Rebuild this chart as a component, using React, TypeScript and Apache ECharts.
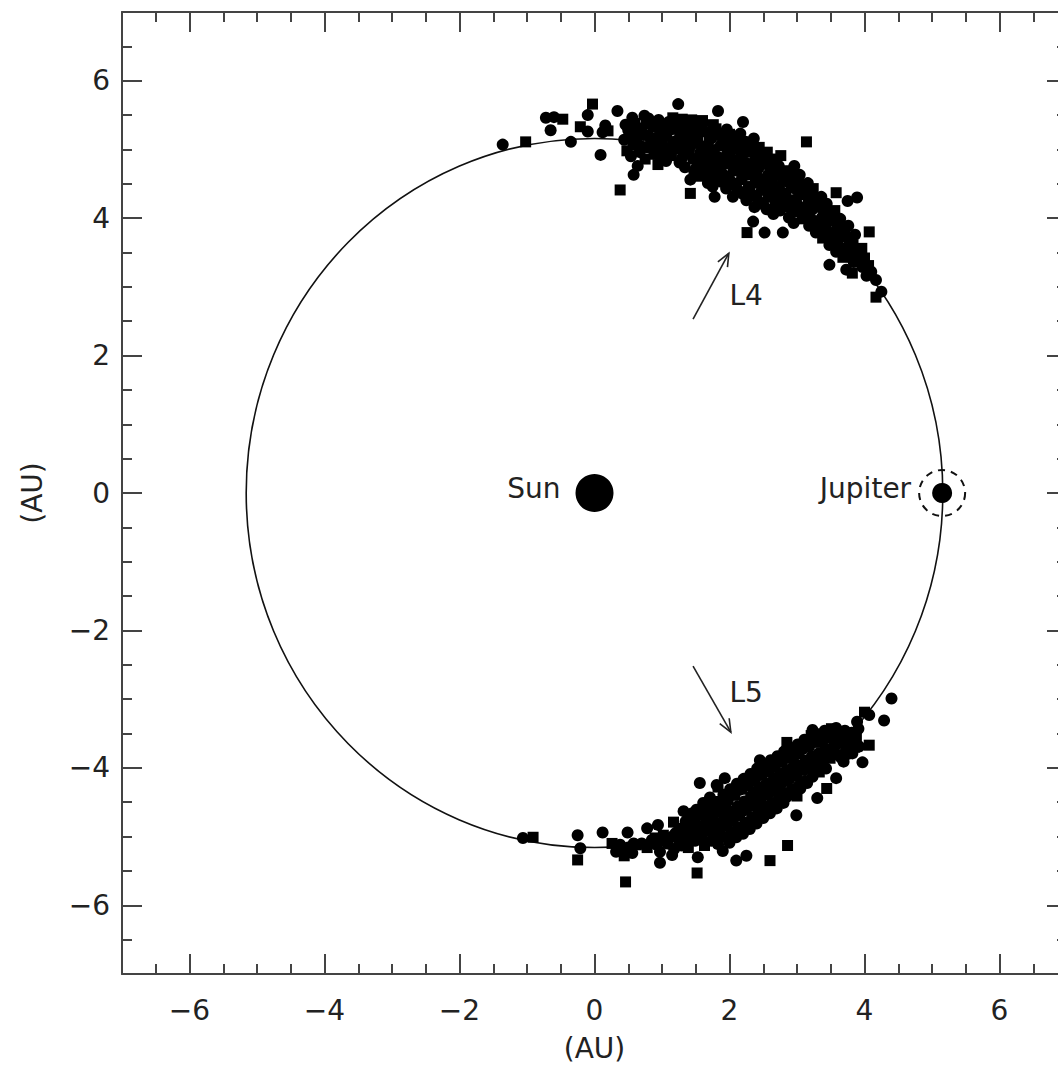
import React, { useEffect, useRef } from 'react';
import * as echarts from 'echarts';

// ---- data ----
const majorTicks = [-6, -4, -2, 0, 2, 4, 6];
const orbit = [[0, 0, 5.16]]; // centre x, centre y, radius (AU)
const sun = [[0, 0]];
const jupiter = [[5.15, 0]];

const trojansL4 = [
  [-1.36, 5.07], [-1.02, 5.11], [-0.72, 5.46], [-0.6, 5.47], [-0.47, 5.44], [-0.65, 5.28], [-0.35, 5.11],
  [-0.21, 5.33], [-0.1, 5.26], [-0.1, 5.5], [-0.03, 5.66], [0.09, 4.92], [0.12, 5.25], [0.2, 5.27], [0.16, 5.35],
  [0.34, 5.56], [0.38, 4.41], [0.58, 4.63], [0.64, 4.76], [0.94, 4.78], [1.24, 5.66], [1.42, 4.56], [1.42, 4.36],
  [1.83, 5.56], [2.2, 5.4], [3.14, 5.11], [1.78, 4.31], [2.35, 3.95], [2.26, 3.79], [2.52, 3.79], [2.79, 3.79],
  [3.58, 4.37], [3.75, 4.25], [3.89, 4.3], [4.07, 3.8], [3.48, 3.32], [3.73, 3.25], [3.82, 3.2], [4.17, 3.1],
  [4.25, 2.93], [4.17, 2.85],
  [0.46, 5.36], [0.44, 5.14], [0.48, 4.98],
  [0.56, 5.46], [0.53, 5.24], [0.57, 5.06], [0.54, 4.9],
  [0.66, 5.31], [0.63, 5.13], [0.67, 4.96],
  [0.74, 5.49], [0.77, 5.38], [0.73, 5.21], [0.78, 5.03], [0.75, 4.86],
  [0.86, 5.33], [0.84, 5.11], [0.88, 4.93],
  [0.95, 5.43], [0.97, 5.26], [0.93, 5.06], [0.98, 4.89],
  [1.04, 5.36], [1.07, 5.19], [1.03, 4.99], [1.06, 4.83],
  [1.16, 5.46], [1.13, 5.29], [1.17, 5.09], [1.14, 4.91],
  [1.24, 5.39], [1.27, 5.21], [1.23, 5.01], [1.26, 4.81],
  [1.36, 5.31], [1.33, 5.13], [1.37, 4.96], [1.34, 4.74],
  [1.44, 5.43], [1.47, 5.23], [1.43, 5.06], [1.46, 4.86], [1.48, 4.66],
  [1.56, 5.33], [1.53, 5.16], [1.57, 4.96], [1.54, 4.79], [1.58, 4.61],
  [1.64, 5.26], [1.67, 5.06], [1.63, 4.89], [1.66, 4.71], [1.68, 4.51],
  [1.76, 5.36], [1.73, 5.16], [1.77, 4.99], [1.74, 4.81], [1.78, 4.63], [1.75, 4.46],
  [1.84, 5.21], [1.87, 5.06], [1.83, 4.89], [1.86, 4.71], [1.88, 4.53],
  [1.96, 5.29], [1.93, 5.11], [1.97, 4.96], [1.94, 4.79], [1.98, 4.61], [1.95, 4.43],
  [2.04, 5.16], [2.07, 5.01], [2.03, 4.86], [2.06, 4.69], [2.08, 4.51], [2.05, 4.31],
  [2.16, 5.23], [2.13, 5.06], [2.17, 4.91], [2.14, 4.73], [2.18, 4.56], [2.15, 4.39],
  [2.24, 5.11], [2.27, 4.96], [2.23, 4.81], [2.26, 4.63], [2.28, 4.46], [2.25, 4.26],
  [2.36, 5.16], [2.33, 4.99], [2.37, 4.83], [2.34, 4.69], [2.38, 4.51], [2.35, 4.33], [2.37, 4.16],
  [2.44, 5.03], [2.47, 4.89], [2.43, 4.73], [2.46, 4.56], [2.48, 4.41], [2.45, 4.23],
  [2.56, 4.96], [2.53, 4.79], [2.57, 4.63], [2.54, 4.49], [2.58, 4.31], [2.55, 4.13],
  [2.64, 4.86], [2.67, 4.71], [2.63, 4.56], [2.66, 4.39], [2.68, 4.21], [2.65, 4.06],
  [2.76, 4.91], [2.73, 4.76], [2.77, 4.61], [2.74, 4.46], [2.78, 4.29], [2.75, 4.11],
  [2.84, 4.69], [2.87, 4.53], [2.83, 4.36], [2.86, 4.19], [2.88, 4.01],
  [2.96, 4.76], [2.93, 4.61], [2.97, 4.43], [2.94, 4.26], [2.98, 4.09], [2.95, 3.93],
  [3.04, 4.63], [3.07, 4.49], [3.03, 4.33], [3.06, 4.16], [3.08, 3.99],
  [3.16, 4.51], [3.13, 4.36], [3.17, 4.21], [3.14, 4.06], [3.18, 3.89],
  [3.24, 4.43], [3.27, 4.29], [3.23, 4.13], [3.26, 3.96], [3.28, 3.79],
  [3.36, 4.31], [3.33, 4.16], [3.37, 4.01], [3.34, 3.86], [3.38, 3.71],
  [3.44, 4.21], [3.47, 4.06], [3.43, 3.91], [3.46, 3.76], [3.48, 3.61],
  [3.56, 4.11], [3.53, 3.96], [3.57, 3.81], [3.54, 3.66], [3.58, 3.51],
  [3.64, 3.99], [3.67, 3.86], [3.63, 3.71], [3.66, 3.56], [3.68, 3.43],
  [3.76, 3.89], [3.73, 3.73], [3.77, 3.59], [3.74, 3.46],
  [3.86, 3.76], [3.83, 3.61], [3.87, 3.49], [3.84, 3.36],
  [3.96, 3.56], [3.93, 3.41], [3.97, 3.29],
  [4.06, 3.31], [4.03, 3.16],
  [0.5, 5.28], [0.6, 5.38], [0.6, 5.16], [0.7, 5.04], [0.7, 5.26], [0.8, 5.45], [0.8, 5.2], [0.9, 5.38],
  [0.9, 5.16], [0.9, 4.98], [1.0, 5.3], [1.0, 5.1], [1.1, 5.4], [1.1, 5.02], [1.2, 5.3], [1.2, 5.12],
  [1.3, 5.44], [1.3, 5.05], [1.3, 4.88], [1.4, 5.37], [1.4, 5.18], [1.4, 4.98], [1.5, 5.28], [1.5, 5.1],
  [1.5, 4.72], [1.6, 5.42], [1.6, 5.02], [1.6, 4.84], [1.7, 5.2], [1.7, 4.92], [1.7, 4.58], [1.8, 5.3],
  [1.8, 4.75], [1.8, 4.55], [1.9, 5.15], [1.9, 4.85], [1.9, 4.64], [2.0, 5.22], [2.0, 4.9], [2.0, 4.56],
  [2.1, 5.1], [2.1, 4.78], [2.1, 4.45], [2.2, 4.98], [2.2, 4.68], [2.2, 4.35], [2.3, 5.05], [2.3, 4.74],
  [2.3, 4.4], [2.4, 4.93], [2.4, 4.62], [2.4, 4.3], [2.5, 4.86], [2.5, 4.55], [2.5, 4.2], [2.6, 4.78],
  [2.6, 4.45], [2.6, 4.12], [2.7, 4.65], [2.7, 4.33], [2.8, 4.55], [2.8, 4.22], [2.9, 4.5], [2.9, 4.15],
  [3.0, 4.55], [3.0, 4.2], [3.1, 4.42], [3.1, 4.1], [3.2, 4.3], [3.2, 4.0], [3.3, 4.22], [3.3, 3.9],
  [3.4, 4.1], [3.4, 3.8], [3.5, 4.0], [3.5, 3.7], [3.6, 3.9], [3.6, 3.6], [3.7, 3.8], [3.7, 3.52],
  [3.8, 3.68], [3.9, 3.5], [4.0, 3.42], [4.1, 3.22],
];

const trojansL5 = [
  [-1.06, -5.02], [-0.91, -5.01], [-0.25, -4.98], [-0.21, -5.17], [-0.25, -5.34], [0.12, -4.94], [0.49, -4.94],
  [0.46, -5.66], [0.78, -4.88], [0.94, -4.83], [0.78, -5.16], [0.97, -5.22], [0.97, -5.38], [1.17, -4.79],
  [1.15, -5.27], [1.53, -5.3], [1.52, -5.53], [4.4, -2.99], [4.29, -3.31], [4.0, -3.19], [4.07, -3.23],
  [3.89, -3.33], [4.07, -3.67], [3.97, -3.92], [3.58, -4.15], [3.44, -4.3], [3.3, -4.44], [2.99, -4.69],
  [2.86, -5.13], [3.23, -3.45], [3.58, -3.42], [2.85, -3.63], [2.45, -3.89], [1.93, -4.15], [1.83, -4.28],
  [1.56, -4.22], [1.81, -4.25], [2.6, -5.35], [2.25, -5.28], [2.1, -5.35],
  [0.26, -5.1], [0.32, -5.22], [0.38, -5.12], [0.44, -5.28], [0.5, -5.16], [0.56, -5.24], [0.62, -5.12],
  [0.85, -5.05], [0.92, -5.12], [1.02, -4.98], [1.08, -5.1], [1.2, -4.95], [1.25, -5.05], [1.18, -5.18],
  [1.32, -4.63], [1.28, -4.88], [1.33, -5.01], [1.29, -5.13],
  [1.41, -4.71], [1.38, -4.86], [1.42, -4.99], [1.39, -5.16],
  [1.51, -4.61], [1.48, -4.79], [1.52, -4.93], [1.49, -5.06],
  [1.61, -4.51], [1.58, -4.69], [1.62, -4.83], [1.59, -4.99], [1.63, -5.13],
  [1.71, -4.43], [1.68, -4.61], [1.72, -4.76], [1.69, -4.91], [1.73, -5.06],
  [1.81, -4.49], [1.78, -4.66], [1.82, -4.81], [1.79, -4.96], [1.83, -5.11],
  [1.91, -4.39], [1.88, -4.56], [1.92, -4.71], [1.89, -4.86], [1.93, -5.01], [1.9, -5.21],
  [2.01, -4.31], [1.98, -4.46], [2.02, -4.63], [1.99, -4.79], [2.03, -4.93], [2.0, -5.09],
  [2.11, -4.23], [2.08, -4.39], [2.12, -4.56], [2.09, -4.71], [2.13, -4.86], [2.1, -5.01],
  [2.21, -4.16], [2.18, -4.31], [2.22, -4.49], [2.19, -4.63], [2.23, -4.79], [2.2, -4.96],
  [2.31, -4.09], [2.28, -4.26], [2.32, -4.41], [2.29, -4.56], [2.33, -4.71], [2.3, -4.89],
  [2.41, -4.01], [2.38, -4.19], [2.42, -4.33], [2.39, -4.49], [2.43, -4.63], [2.4, -4.81],
  [2.51, -3.96], [2.48, -4.11], [2.52, -4.26], [2.49, -4.41], [2.53, -4.56], [2.5, -4.73],
  [2.61, -3.89], [2.58, -4.06], [2.62, -4.21], [2.59, -4.36], [2.63, -4.51], [2.6, -4.66],
  [2.71, -3.83], [2.68, -3.99], [2.72, -4.13], [2.69, -4.29], [2.73, -4.43], [2.7, -4.59],
  [2.81, -3.76], [2.78, -3.91], [2.82, -4.06], [2.79, -4.21], [2.83, -4.36], [2.8, -4.51],
  [2.91, -3.71], [2.88, -3.86], [2.92, -4.01], [2.89, -4.16], [2.93, -4.31],
  [3.01, -3.66], [2.98, -3.81], [3.02, -3.96], [2.99, -4.11], [3.03, -4.26], [3.0, -4.41],
  [3.11, -3.59], [3.08, -3.73], [3.12, -3.89], [3.09, -4.03], [3.13, -4.19],
  [3.21, -3.53], [3.18, -3.69], [3.22, -3.83], [3.19, -3.99], [3.23, -4.13],
  [3.31, -3.51], [3.28, -3.63], [3.32, -3.79], [3.29, -3.93], [3.33, -4.06],
  [3.41, -3.46], [3.38, -3.61], [3.42, -3.73], [3.39, -3.89], [3.43, -4.01],
  [3.51, -3.43], [3.48, -3.56], [3.52, -3.71], [3.49, -3.86],
  [3.61, -3.51], [3.58, -3.66], [3.62, -3.81],
  [3.71, -3.46], [3.68, -3.61], [3.72, -3.76], [3.69, -3.91],
  [3.81, -3.49], [3.78, -3.63], [3.82, -3.79],
  [3.91, -3.43], [3.88, -3.56], [3.92, -3.69],
  [0.35, -5.18], [0.47, -5.2], [0.58, -5.1], [0.7, -5.1], [0.9, -5.02], [1.05, -5.05], [1.15, -5.0], [1.25, -4.92],
  [1.35, -4.78], [1.35, -5.06], [1.45, -4.92], [1.45, -4.66], [1.55, -4.86], [1.55, -5.0], [1.65, -4.62], [1.65, -4.9],
  [1.75, -4.55], [1.75, -4.84], [1.85, -4.58], [1.85, -4.92], [1.95, -4.5], [1.95, -4.82], [2.05, -4.4], [2.05, -4.72],
  [2.15, -4.32], [2.15, -4.64], [2.15, -4.94], [2.25, -4.22], [2.25, -4.55], [2.25, -4.86], [2.35, -4.15], [2.35, -4.48],
  [2.35, -4.78], [2.45, -4.08], [2.45, -4.4], [2.45, -4.7], [2.55, -4.02], [2.55, -4.33], [2.55, -4.62], [2.65, -3.95],
  [2.65, -4.28], [2.65, -4.58], [2.75, -3.9], [2.75, -4.2], [2.75, -4.5], [2.85, -3.8], [2.85, -4.12], [2.85, -4.42],
  [2.95, -3.75], [2.95, -4.06], [2.95, -4.35], [3.05, -3.72], [3.05, -4.02], [3.05, -4.3], [3.15, -3.65], [3.15, -3.95],
  [3.15, -4.22], [3.25, -3.58], [3.25, -3.9], [3.35, -3.55], [3.35, -3.85], [3.45, -3.52], [3.45, -3.8], [3.55, -3.48],
  [3.55, -3.78], [3.65, -3.55], [3.65, -3.85], [3.75, -3.52], [3.75, -3.8], [3.85, -3.56], [3.85, -3.7],
];

// arrows: tail x, tail y, head x, head y
const arrowTails = [[1.46, 2.53], [1.46, -2.52]];
const arrowHeads = [[1.99, 3.49], [2.02, -3.48]];
const arrowLabels = ['L4', 'L5'];
const arrowLabelPos = [[2.0, 2.88], [2.0, -2.9]];

const FONT = '"DejaVu Sans", "Liberation Sans", sans-serif';
const AXIS_COLOR = '#444';

const fmt = (v: number) => (v < 0 ? '\u2212' + Math.abs(v) : String(v));

function minorAxis(pos: string, extra: any = {}) {
  return {
    type: 'value', position: pos, min: -7, max: 7, interval: 0.5,
    axisLine: { show: true, onZero: false, lineStyle: { color: AXIS_COLOR, width: 2 } },
    axisTick: { show: true, inside: true, length: 10, lineStyle: { color: AXIS_COLOR, width: 2 } },
    axisLabel: { show: false },
    splitLine: { show: false },
    ...extra,
  };
}
function majorAxis(pos: string, showLabel: boolean, extra: any = {}) {
  return {
    type: 'value', position: pos, min: -7, max: 7, interval: 0.5,
    axisLine: { show: false, onZero: false },
    axisTick: { show: true, inside: true, length: 20, customValues: majorTicks, lineStyle: { color: AXIS_COLOR, width: 2 } },
    axisLabel: {
      show: showLabel, customValues: majorTicks, formatter: fmt,
      fontFamily: FONT, fontSize: 28, color: '#222',
    },
    splitLine: { show: false },
    ...extra,
  };
}

export default function App() {
  const ref = useRef<HTMLDivElement>(null);
  useEffect(() => {
    if (!ref.current) return;
    const chart = echarts.init(ref.current, null, { renderer: 'svg' });
    const arrowData = arrowTails.map((t, i) => [t[0], t[1], arrowHeads[i][0], arrowHeads[i][1], arrowLabelPos[i][0], arrowLabelPos[i][1]]);
    const shapeOf = (_v: any, p: any) => (p.dataIndex % 3 === 1 ? 'rect' : 'circle');
    const sizeOf = (_v: any, p: any) => (p.dataIndex % 3 === 1 ? 11 : 12);
    chart.setOption({
      animation: false,
      backgroundColor: '#ffffff',
      grid: { left: 122, top: 12, width: 945, height: 963 },
      xAxis: [
        minorAxis('bottom'),
        majorAxis('bottom', true, {
          name: '(AU)', nameLocation: 'middle', nameGap: 60,
          nameTextStyle: { fontFamily: FONT, fontSize: 28, color: '#222' },
          axisLabel: { show: true, customValues: majorTicks, formatter: fmt, fontFamily: FONT, fontSize: 28, color: '#222', margin: 22 },
        }),
        minorAxis('top'),
        majorAxis('top', false),
      ],
      yAxis: [
        minorAxis('left'),
        majorAxis('left', true, {
          name: '(AU)', nameLocation: 'middle', nameGap: 76,
          nameTextStyle: { fontFamily: FONT, fontSize: 28, color: '#222' },
          axisLabel: { show: true, customValues: majorTicks, formatter: fmt, fontFamily: FONT, fontSize: 28, color: '#222', margin: 12 },
        }),
        minorAxis('right'),
        majorAxis('right', false),
      ],
      series: [
        {
          type: 'custom', name: 'orbit', xAxisIndex: 0, yAxisIndex: 0, data: orbit,
          renderItem: (_p: any, api: any) => {
            const c = api.coord([api.value(0), api.value(1)]);
            const s = api.size([api.value(2), api.value(2)]);
            return {
              type: 'ellipse',
              shape: { cx: c[0], cy: c[1], rx: s[0], ry: s[1] },
              style: { fill: 'none', stroke: '#111', lineWidth: 1.6 },
            };
          },
          silent: true,
        },
        {
          type: 'scatter', name: 'L4', data: trojansL4, symbol: shapeOf, symbolSize: sizeOf,
          itemStyle: { color: '#000', opacity: 1 },
        },
        {
          type: 'scatter', name: 'L5', data: trojansL5, symbol: shapeOf, symbolSize: sizeOf,
          itemStyle: { color: '#000', opacity: 1 },
        },
        {
          type: 'scatter', name: 'Sun', data: sun, symbol: 'circle', symbolSize: 38,
          itemStyle: { color: '#000', opacity: 1 },
          label: { show: true, position: 'left', distance: 15, offset: [0, -5], formatter: 'Sun', fontFamily: FONT, fontSize: 28, color: '#222' },
        },
        {
          type: 'scatter', name: 'Jupiter', data: jupiter, symbol: 'circle', symbolSize: 20,
          itemStyle: { color: '#000', opacity: 1 },
        },
        {
          type: 'scatter', name: 'Jupiter ring', data: jupiter, symbol: 'circle', symbolSize: 46,
          itemStyle: { color: 'rgba(0,0,0,0)', borderColor: '#111', borderWidth: 2, borderType: [7, 6], opacity: 1 },
          label: { show: true, position: 'left', distance: 7, offset: [0, -5], formatter: 'Jupiter', fontFamily: FONT, fontSize: 28, color: '#222' },
        },
        {
          type: 'custom', name: 'arrows', data: arrowData,
          renderItem: (p: any, api: any) => {
            const a = api.coord([api.value(0), api.value(1)]);
            const b = api.coord([api.value(2), api.value(3)]);
            const l = api.coord([api.value(4), api.value(5)]);
            const ang = Math.atan2(b[1] - a[1], b[0] - a[0]);
            const hl = 14, spread = 0.4;
            const h1 = [b[0] - hl * Math.cos(ang - spread), b[1] - hl * Math.sin(ang - spread)];
            const h2 = [b[0] - hl * Math.cos(ang + spread), b[1] - hl * Math.sin(ang + spread)];
            const st = { stroke: '#222', lineWidth: 1.6 };
            return {
              type: 'group',
              children: [
                { type: 'line', shape: { x1: a[0], y1: a[1], x2: b[0], y2: b[1] }, style: st },
                { type: 'polyline', shape: { points: [h1, b, h2] }, style: { ...st, fill: 'none' } },
                {
                  type: 'text', x: l[0], y: l[1],
                  style: { text: arrowLabels[p.dataIndex], fill: '#222', font: '28px ' + FONT, align: 'left', verticalAlign: 'middle' },
                },
              ],
            };
          },
          silent: true,
        },
      ],
    });
    return () => chart.dispose();
  }, []);
  return (
    <div style={{ position: 'fixed', left: 0, top: 0, width: 1058, height: 1067, overflow: 'hidden', background: '#fff' }}>
      <div ref={ref} style={{ position: 'absolute', left: 0, top: 0, width: 1100, height: 1067 }} />
    </div>
  );
}
